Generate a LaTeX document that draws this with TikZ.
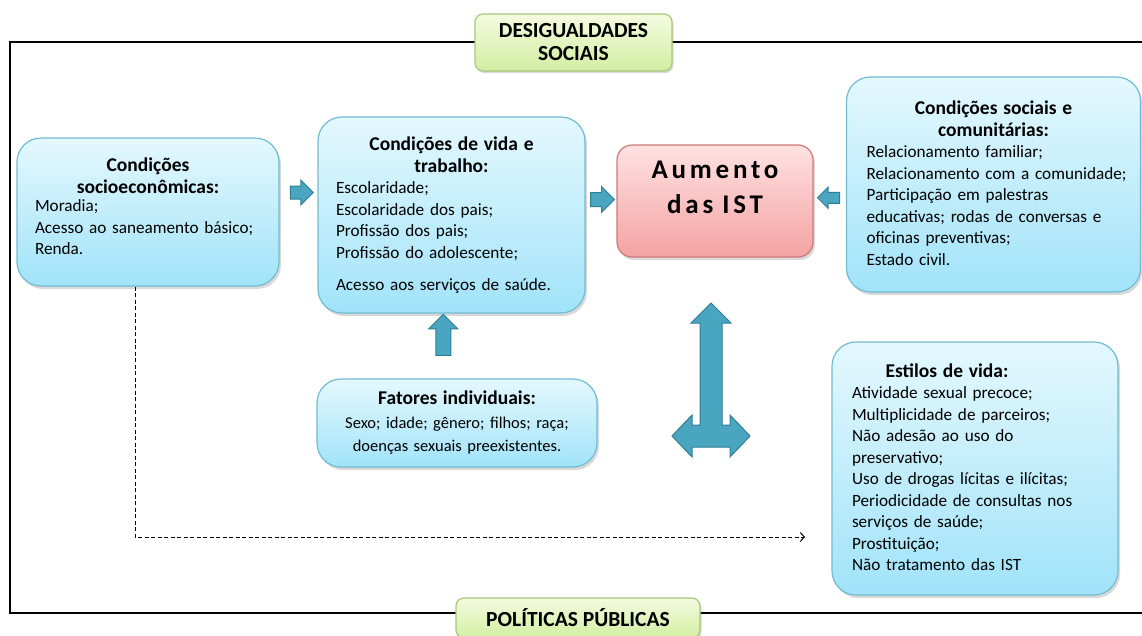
\documentclass[tikz,border=0pt]{standalone}
\usepackage{fontspec}
\setmainfont{Carlito}
\usetikzlibrary{arrows.meta, calc, positioning, shapes.arrows, shadows}

\definecolor{boxtop}{HTML}{E4F8FE}
\definecolor{boxbot}{HTML}{A1E3F9}
\definecolor{boxline}{HTML}{72BCD2}
\definecolor{redtop}{HTML}{FFE2E2}
\definecolor{redbot}{HTML}{F4A2A2}
\definecolor{redline}{HTML}{CF7878}
\definecolor{greentop}{HTML}{F5FBE0}
\definecolor{greenbot}{HTML}{D2EEA2}
\definecolor{greenline}{HTML}{A6C97A}
\definecolor{arrowfill}{HTML}{4AA6C0}
\definecolor{arrowline}{HTML}{2F7E95}

\newcommand{\boxtitle}{\bfseries\fontsize{19.5}{22}\selectfont}
\newcommand{\padbottom}[1]{\par\vspace{#1}\nointerlineskip\null}

\begin{document}
\begin{tikzpicture}[
  x=1pt, y=-1pt,
  >={Straight Barb[length=4pt,width=9pt]},
  infobox/.style={rectangle, rounded corners=24pt, draw=boxline, line width=1.2pt,
    top color=boxtop, bottom color=boxbot,
    drop shadow={opacity=0.3, shadow xshift=2pt, shadow yshift=-3pt},
    align=left, inner xsep=18pt, inner ysep=0pt,
    font=\fontsize{17.2}{21.5}\selectfont},
  mainbox/.style={rectangle, rounded corners=15pt, draw=redline, line width=1.2pt,
    top color=redtop, bottom color=redbot,
    drop shadow={opacity=0.3, shadow xshift=2pt, shadow yshift=-3pt},
    align=center, inner sep=0pt,
    font=\bfseries\fontsize{27}{35}\selectfont\addfontfeature{LetterSpace=14}},
  tagbox/.style={rectangle, rounded corners=8pt, draw=greenline, line width=1.2pt,
    top color=greentop, bottom color=greenbot,
    drop shadow={opacity=0.3, shadow xshift=1.5pt, shadow yshift=-2pt},
    align=center, inner sep=0pt,
    font=\bfseries\fontsize{21.5}{23}\selectfont},
  blockarr/.style={single arrow, draw=arrowline, fill=arrowfill, line width=1pt,
    inner xsep=0pt}
]

\useasboundingbox (0,0) rectangle (1142,635);

% Frame
\draw[line width=2.6pt] (10,42) rectangle (1170,613);

% Labels on the frame
\node[tagbox, minimum width=197, minimum height=57] (desig) at (573.5,42.5)
  {DESIGUALDADES\\SOCIAIS};
\node[tagbox, minimum width=244, minimum height=40] (polit) at (578,618)
  {POLÍTICAS PÚBLICAS};

% Boxes
\node[infobox, minimum width=262, minimum height=148, text width=226] (socio) at (148,212)
  {{\centering\boxtitle Condições\\socioeconômicas:\par}\vspace{-3pt}
   Moradia;\\Acesso ao saneamento básico;\\Renda.\padbottom{12pt}};

\node[infobox, minimum width=267, minimum height=196, text width=231] (vida) at (451.5,215)
  {{\centering\boxtitle Condições de vida e\\trabalho:\par}
   Escolaridade;\\Escolaridade dos pais;\\Profissão dos pais;\\Profissão do adolescente;\\[11pt]
   Acesso aos serviços de saúde.};

\node[mainbox, minimum width=196, minimum height=112, text width=190] (ist) at (715,201)
  {Aumento\\das IST\padbottom{28pt}};

\node[infobox, minimum width=294, minimum height=215, text width=254, inner xsep=20pt]
  (social) at (993.5,184.5)
  {{\centering\boxtitle Condições sociais e\\comunitárias:\par}
   Relacionamento familiar;\\\mbox{Relacionamento com a comunidade;}\\Participação em palestras\\
   \mbox{educativas; rodas de conversas e}\\oficinas preventivas;\\Estado civil.\padbottom{3pt}};

\node[infobox, minimum width=280, minimum height=88, text width=250, inner xsep=15pt,
  align=center, font=\fontsize{16.5}{23.5}\selectfont] (indiv) at (457,423)
  {{\boxtitle Fatores individuais:}\\
   Sexo; idade; gênero; filhos; raça;\\doenças sexuais preexistentes.};

\node[infobox, minimum width=286, minimum height=253, text width=246, inner xsep=20pt]
  (estilo) at (975,468.5)
  {\makebox[190pt]{\boxtitle Estilos de vida:}\\
   Atividade sexual precoce;\\Multiplicidade de parceiros;\\Não adesão ao uso do\\preservativo;\\
   Uso de drogas lícitas e ilícitas;\\Periodicidade de consultas nos\\serviços de saúde;\\
   Prostituição;\\Não tratamento das IST\padbottom{3pt}};

% Block arrows
\path (socio.east) -- (vida.west)
  node[midway, blockarr, minimum height=23, inner ysep=6pt, single arrow head extend=6pt,
    yshift=21pt] (arrsv) {};
\path (vida.east) -- (ist.west)
  node[midway, blockarr, minimum height=24, inner ysep=6.5pt, single arrow head extend=6pt,
    xshift=-2pt, yshift=8.5pt] (arrvi) {};
\path (social.west) -- (ist.east)
  node[midway, blockarr, shape border rotate=180, minimum height=22, inner ysep=5pt,
    single arrow head extend=5pt, xshift=1.5pt, yshift=-5pt] (arrsi) {};
\path (indiv.north) -- (vida.south)
  node[midway, blockarr, shape border rotate=90, minimum height=41, inner sep=7pt,
    single arrow head extend=7pt, xshift=-11pt, yshift=7.5pt] (arriv) {};

% Two-way arrow under the main box
\draw[arrowline, fill=arrowfill, line width=1pt, line join=miter]
  (711,303) -- (731,323) -- (722,323) -- (722,425) -- (730,425) -- (730,415)
  -- (750,436) -- (730,457) -- (730,447) -- (692,447) -- (692,457) -- (672,436)
  -- (692,415) -- (692,425) -- (700,425) -- (700,323) -- (691,323) -- cycle;

% Dashed link
\coordinate (dashend) at (805,537);
\draw[dashed, dash pattern=on 4pt off 2.5pt, line width=1pt, ->]
  ($(socio.south)+(-13,0)$) |- (dashend);

\end{tikzpicture}
\end{document}
